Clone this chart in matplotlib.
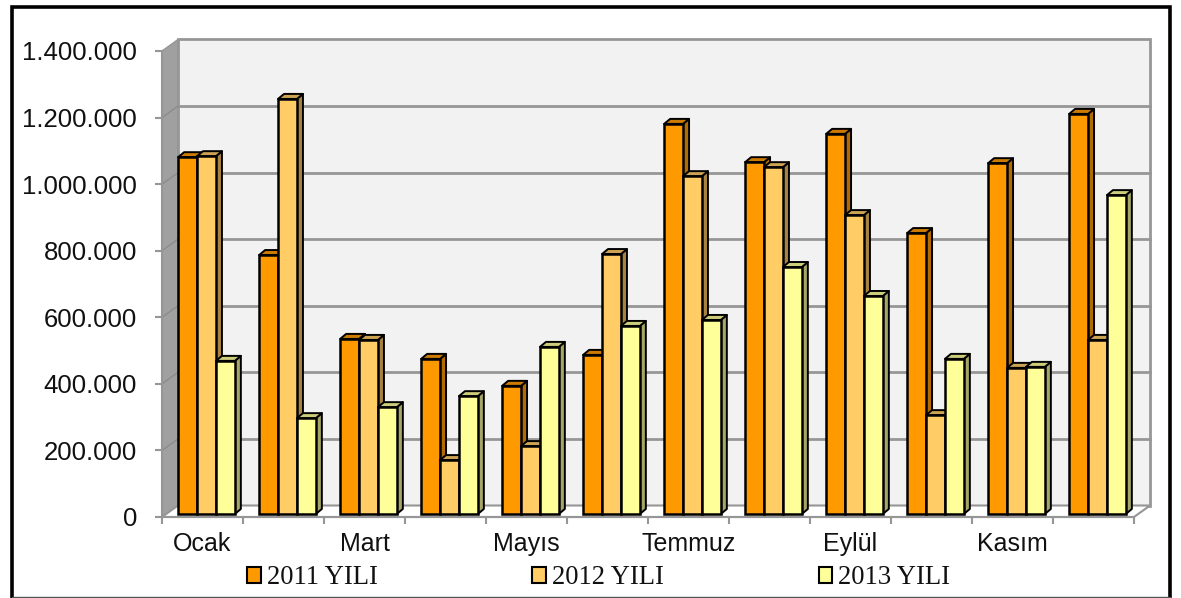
import matplotlib
matplotlib.use("Agg")
import matplotlib.pyplot as plt
from matplotlib.patches import Patch, Polygon
from matplotlib.lines import Line2D

# Values
MONTHS = ["Ocak", "Şubat", "Mart", "Nisan", "Mayıs", "Haziran",
          "Temmuz", "Ağustos", "Eylül", "Ekim", "Kasım", "Aralık"]
Y2011 = [1072000, 778000, 526000, 466000, 385000, 478000,
         1172000, 1057000, 1142000, 844000, 1054000, 1202000]
Y2012 = [1075000, 1247000, 523000, 162000, 204000, 781000,
         1015000, 1042000, 898000, 297000, 439000, 523000]
Y2013 = [460000, 288000, 321000, 354000, 502000, 565000,
         583000, 742000, 655000, 466000, 442000, 958000]
YTICKS = [0, 200000, 400000, 600000, 800000, 1000000, 1200000, 1400000]

SERIES = [
    ("2011 YILI", Y2011, "#FF9900", "#B26B00", "#CC7A00"),
    ("2012 YILI", Y2012, "#FFCC66", "#A88340", "#CCA352"),
    ("2013 YILI", Y2013, "#FFFF99", "#A6A666", "#CCCC7A"),
]

W, H = 1181, 598
X0, X1 = 162, 1134
Y0, Y1 = 517, 51
YMAX = 1400000
GRID = "#969696"

fig = plt.figure(figsize=(W / 100, H / 100), dpi=100)
ax = fig.add_axes([X0 / W, 1 - Y0 / H, (X1 - X0) / W, (Y0 - Y1) / H])
ax.set_xlim(0, 12)
ax.set_ylim(0, YMAX)
ax.patch.set_visible(False)

# one pixel in data units
px = 12 / (X1 - X0)
py = YMAX / (Y0 - Y1)
wall_dx, wall_dy = 16 * px, 11.5 * py
bar_dx, bar_dy = 4 * px, 3 * py
side_dx, side_dy = 6 * px, 5 * py
bar_w = 18.9 * px


def poly(points, **kw):
    ax.add_patch(Polygon(points, closed=True, clip_on=False, **kw))


# walls and floor
poly([(0, 0), (wall_dx, wall_dy), (wall_dx, YMAX + wall_dy), (0, YMAX)],
     facecolor="#A0A0A0", edgecolor=GRID, lw=1, zorder=1)
poly([(wall_dx, wall_dy), (12 + wall_dx, wall_dy),
      (12 + wall_dx, YMAX + wall_dy), (wall_dx, YMAX + wall_dy)],
     facecolor="#F2F2F2", edgecolor=GRID, lw=2, zorder=1)
poly([(0, 0), (12, 0), (12 + wall_dx, wall_dy), (wall_dx, wall_dy)],
     facecolor="white", edgecolor=GRID, lw=1.5, zorder=1.5)

for v in YTICKS[1:-1]:
    ax.plot([wall_dx, 12 + wall_dx], [v + wall_dy, v + wall_dy], color=GRID,
            lw=2, zorder=2, clip_on=False)
    ax.plot([0, wall_dx], [v, v + wall_dy], color="#8C8C8C",
            lw=1, zorder=2, clip_on=False)

# bars
z = 3
for i in range(len(MONTHS)):
    for j, (name, vals, front, side, top) in enumerate(SERIES):
        x = i + 0.5 + (j - 1.5) * bar_w + bar_dx
        v = vals[i]
        base = bar_dy
        h = v + base
        poly([(x + bar_w, base), (x + bar_w + side_dx, base + side_dy),
              (x + bar_w + side_dx, h + side_dy), (x + bar_w, h)],
             facecolor=side, edgecolor="black", lw=1.4, zorder=z, joinstyle="round")
        poly([(x, h), (x + bar_w, h), (x + bar_w + side_dx, h + side_dy),
              (x + side_dx, h + side_dy)],
             facecolor=top, edgecolor="black", lw=1.4, zorder=z, joinstyle="round")
        ax.bar(x, v, width=bar_w, bottom=base, align="edge", color=front,
               edgecolor="black", lw=1.8, zorder=z + 0.5, clip_on=False)
        z += 1

# axes
for s in ["top", "right"]:
    ax.spines[s].set_visible(False)
for s in ["left", "bottom"]:
    ax.spines[s].set_color(GRID)
    ax.spines[s].set_linewidth(1.5)

ax.set_yticks(YTICKS)
ax.set_yticklabels([f"{v:,}".replace(",", ".") for v in YTICKS],
                   fontfamily="Liberation Sans", fontsize=18.5, color="#111111")
ax.tick_params(axis="y", length=5, width=1.5, color=GRID, pad=13)

ax.set_xticks(range(13))
ax.set_xticklabels([])
ax.set_xticks([i + 0.5 for i in range(0, 12, 2)], minor=True)
ax.set_xticklabels(MONTHS[::2], minor=True, fontfamily="Liberation Sans",
                   fontsize=18, color="#111111")
ax.tick_params(axis="x", which="major", length=5, width=1.5, color=GRID)
ax.tick_params(axis="x", which="minor", length=0, pad=11)

# legend
handles = [Patch(facecolor=s[2], edgecolor="black", lw=1.5) for s in SERIES]
leg = fig.legend(handles, [s[0] for s in SERIES], ncol=3, frameon=False,
                 loc="center left", bbox_to_anchor=(247 / W, 1 - 578 / H),
                 prop={"family": "Liberation Serif", "size": 19.2},
                 handlelength=0.52, handleheight=0.52, handletextpad=0.22,
                 columnspacing=5.8, borderpad=0, borderaxespad=0)
for t in leg.get_texts():
    t.set_color("#111111")

# picture frame
fig.add_artist(Line2D([11.5 / W, 11.5 / W, 1169.5 / W, 1169.5 / W],
                      [0, 1 - 6.5 / H, 1 - 6.5 / H, 0], color="black",
                      lw=2.6, solid_joinstyle="miter"))
fig.add_artist(Line2D([11.5 / W, 1169.5 / W], [0.8 / H, 0.8 / H], color="#555555", lw=1))

fig.savefig("out.png", dpi=100)
plt.close(fig)
